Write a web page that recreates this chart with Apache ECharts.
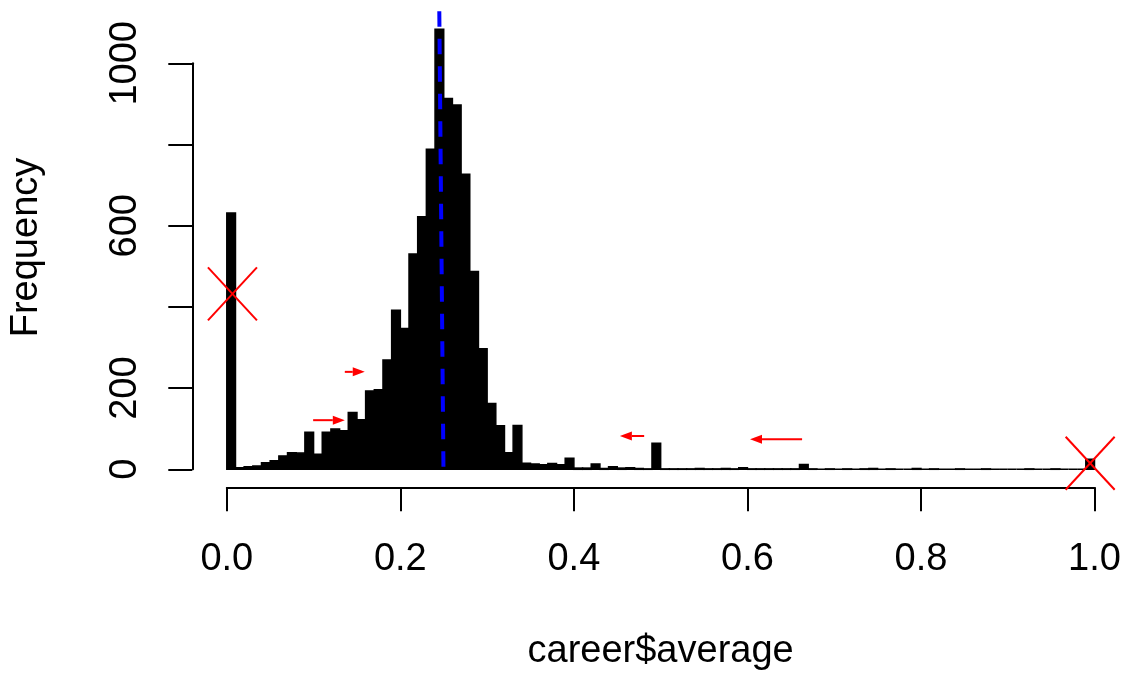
<!DOCTYPE html>
<html>
<head>
<meta charset="utf-8">
<script src="https://cdn.jsdelivr.net/npm/echarts@6/dist/echarts.min.js"></script>
<style>
html,body{margin:0;padding:0;background:#fff;}
#chart{width:1126px;height:676px;}
</style>
</head>
<body>
<div id="chart"></div>
<script>
// ---- data ----
const binWidth = 0.01;
// histogram counts for bins (0,0.01], (0.01,0.02], ... (0.99,1.00]
const counts = [
  631, 4, 6, 8, 16, 21, 33, 41, 40, 91,
  37, 91, 99, 95, 140, 122, 193, 196, 269, 392,
  347, 530, 622, 788, 1084, 913, 897, 727, 487, 297,
  162, 107, 41, 108, 15, 13, 11, 14, 11, 27,
  3, 3, 13, 2, 6, 3, 4, 2, 1, 64,
  1, 1, 1, 1, 2, 1, 1, 2, 1, 4,
  1, 1, 1, 1, 1, 1, 12, 1, 0, 1,
  0, 1, 0, 1, 2, 0, 1, 0, 0, 2,
  0, 1, 0, 0, 1, 0, 0, 1, 0, 0,
  0, 0, 1, 0, 0, 1, 0, 0, 0, 25
];
const xTicks = [0, 0.2, 0.4, 0.6, 0.8, 1.0];
const yTickLabels = ['0', '200', '', '600', '', '1000'];
const yTicks = [0, 200, 400, 600, 800, 1000];
// mean line (slightly slanted as drawn): [x at top, x at bottom], y extent
const meanLineX = [0.2449, 0.2497];
const meanLineY = [1128, -2];
// red cross markers [x, y]
const crosses = [[0.0065, 432], [0.995, 15]];
// red arrows [xTail, yTail, xHead, yHead]
const arrows = [
  [0.0995, 121, 0.136, 121],
  [0.136, 240, 0.159, 240],
  [0.481, 82, 0.453, 82],
  [0.663, 74, 0.603, 74]
];
const xTitle = 'career$average';
const yTitle = 'Frequency';

// ---- build ----
const barData = counts.map((c, i) => [i * binWidth, (i + 1) * binWidth, c]);
const FONT = 'Liberation Sans, Arial, Helvetica, sans-serif';

const chart = echarts.init(document.getElementById('chart'), null, {renderer: 'canvas'});
chart.setOption({
  animation: false,
  backgroundColor: '#ffffff',
  grid: {left: 226.8, right: 31.5, top: 63.3, bottom: 206.7, containLabel: false},
  xAxis: {
    type: 'value', min: 0, max: 1, interval: 0.2, offset: 18,
    axisLine: {show: true, onZero: false, lineStyle: {color: '#000', width: 2}},
    axisTick: {show: true, length: 24, inside: false, lineStyle: {color: '#000', width: 2}},
    axisLabel: {
      margin: 53, color: '#000', fontSize: 38, fontFamily: FONT,
      formatter: v => { const i = xTicks.findIndex(t => Math.abs(t - v) < 1e-9); return i >= 0 ? xTicks[i].toFixed(1) : ''; }
    },
    splitLine: {show: false}
  },
  yAxis: {
    type: 'value', min: 0, max: 1000, interval: 200, offset: 34.5,
    axisLine: {show: true, onZero: false, lineStyle: {color: '#000', width: 2}},
    axisTick: {show: true, length: 24, inside: false, lineStyle: {color: '#000', width: 2}},
    axisLabel: {
      margin: 48, rotate: 90, color: '#000', fontSize: 38, fontFamily: FONT,
      formatter: v => { const i = yTicks.indexOf(v); return i >= 0 ? yTickLabels[i] : ''; }
    },
    splitLine: {show: false}
  },
  graphic: [
    {type: 'text', x: 660.6, y: 652, style: {text: xTitle, font: '38px ' + FONT, fill: '#000', align: 'center', verticalAlign: 'middle'}},
    {type: 'text', x: 27, y: 247.5, rotation: Math.PI / 2, style: {text: yTitle, font: '38px ' + FONT, fill: '#000', align: 'center', verticalAlign: 'middle'}}
  ],
  series: [
    {
      type: 'custom', name: 'hist', clip: false,
      encode: {x: [0, 1], y: 2},
      data: barData,
      renderItem: (params, api) => {
        const p0 = api.coord([api.value(0), api.value(2)]);
        const p1 = api.coord([api.value(1), 0]);
        return {
          type: 'rect',
          shape: {x: p0[0], y: p0[1], width: p1[0] - p0[0], height: p1[1] - p0[1]},
          style: {fill: '#000', stroke: '#000', lineWidth: 1.5}
        };
      }
    },
    {
      type: 'custom', name: 'mean', clip: false,
      data: [[meanLineX[0], meanLineY[0], meanLineX[1], meanLineY[1]]],
      renderItem: (params, api) => {
        const a = api.coord([api.value(0), api.value(1)]);
        const b = api.coord([api.value(2), api.value(3)]);
        return {
          type: 'line',
          shape: {x1: a[0], y1: a[1], x2: b[0], y2: b[1]},
          style: {stroke: '#0000ff', lineWidth: 4, lineDash: [15.5, 12]}
        };
      }
    },
    {
      type: 'custom', name: 'cross', clip: false,
      data: crosses,
      renderItem: (params, api) => {
        const c = api.coord([api.value(0), api.value(1)]);
        const hw = 24.5, hh = 26.5;
        const st = {stroke: '#ff0000', lineWidth: 2};
        return {
          type: 'group',
          children: [
            {type: 'line', shape: {x1: c[0] - hw, y1: c[1] - hh, x2: c[0] + hw, y2: c[1] + hh}, style: st},
            {type: 'line', shape: {x1: c[0] - hw, y1: c[1] + hh, x2: c[0] + hw, y2: c[1] - hh}, style: st}
          ]
        };
      }
    },
    {
      type: 'custom', name: 'arrows', clip: false,
      data: arrows,
      renderItem: (params, api) => {
        const t = api.coord([api.value(0), api.value(1)]);
        const h = api.coord([api.value(2), api.value(3)]);
        const dx = h[0] - t[0], dy = h[1] - t[1];
        const len = Math.sqrt(dx * dx + dy * dy) || 1;
        const ux = dx / len, uy = dy / len;
        const hl = 12, hw = 4.5;
        const bx = h[0] - ux * hl, by = h[1] - uy * hl;
        return {
          type: 'group',
          children: [
            {type: 'line', shape: {x1: t[0], y1: t[1], x2: bx, y2: by}, style: {stroke: '#ff0000', lineWidth: 2}},
            {type: 'polygon', shape: {points: [[h[0], h[1]], [bx - uy * hw, by + ux * hw], [bx + uy * hw, by - ux * hw]]}, style: {fill: '#ff0000'}}
          ]
        };
      }
    }
  ]
});
</script>
</body>
</html>
